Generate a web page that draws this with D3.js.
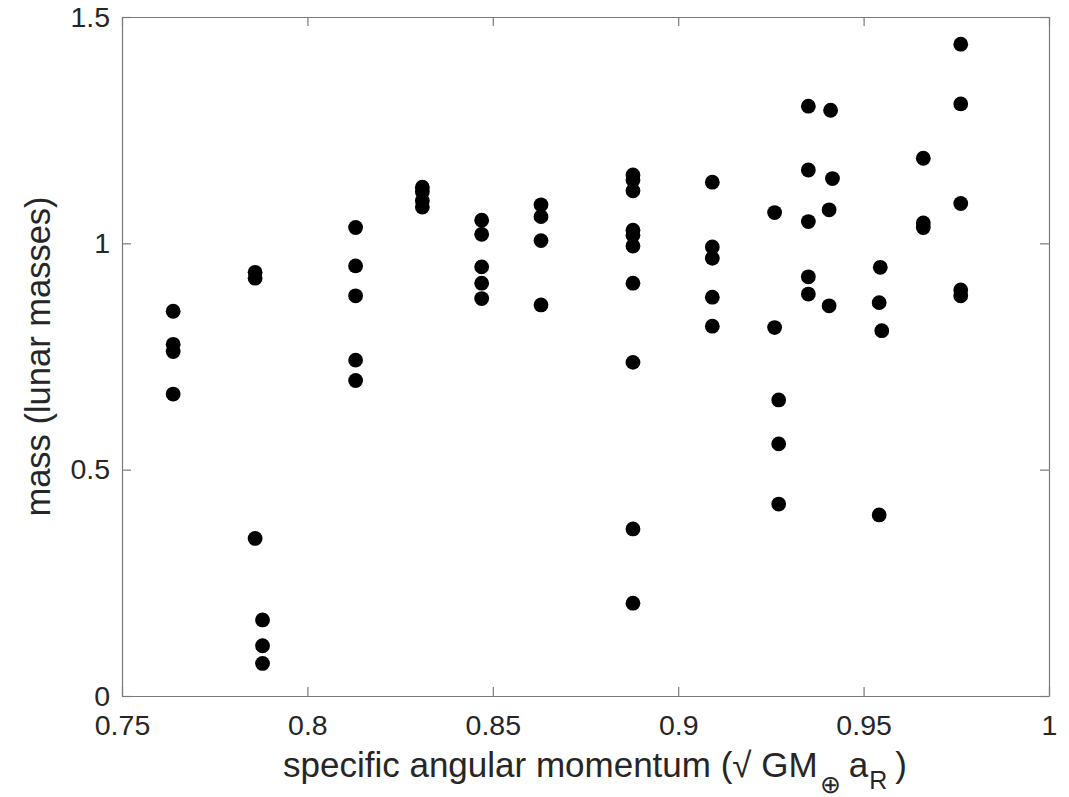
<!DOCTYPE html>
<html>
<head>
<meta charset="utf-8">
<script src="https://cdn.jsdelivr.net/npm/d3@7"></script>
<style>
  body { margin: 0; background: #fff; }
  svg { display: block; font-family: "Liberation Sans", Arial, sans-serif; }
</style>
</head>
<body>
<svg id="chart"></svg>
<script>
const width = 1069;
const height = 797;
const margin = {top: 17, right: 20, bottom: 101, left: 122};

// specific angular momentum of each point
const momentum = [
  0.7638, 0.7638, 0.7638, 0.7638,
  0.7859, 0.7859, 0.7859, 0.7879, 0.7879, 0.7879,
  0.8130, 0.8130, 0.8130, 0.8130, 0.8130,
  0.8310, 0.8310, 0.8310, 0.8310,
  0.8470, 0.8470, 0.8470, 0.8470, 0.8470,
  0.8630, 0.8630, 0.8630, 0.8630,
  0.8878, 0.8878, 0.8878, 0.8878, 0.8878, 0.8878, 0.8878, 0.8878, 0.8878, 0.8878,
  0.9092, 0.9092, 0.9092, 0.9092, 0.9092,
  0.9260, 0.9260, 0.9271, 0.9271, 0.9271,
  0.9351, 0.9351, 0.9351, 0.9351, 0.9351,
  0.9411, 0.9416, 0.9407, 0.9407,
  0.9545, 0.9542, 0.9549, 0.9542,
  0.9661, 0.9661, 0.9661,
  0.9762, 0.9762, 0.9762, 0.9762, 0.9762
];

// mass (lunar masses) of each point
const mass = [
  0.850, 0.777, 0.761, 0.667,
  0.936, 0.923, 0.348, 0.168, 0.111, 0.072,
  1.035, 0.950, 0.884, 0.742, 0.697,
  1.124, 1.114, 1.094, 1.080,
  1.051, 1.020, 0.948, 0.912, 0.878,
  1.085, 1.059, 1.006, 0.864,
  1.151, 1.140, 1.116, 1.029, 1.018, 0.994, 0.912, 0.737, 0.369, 0.205,
  1.135, 0.992, 0.967, 0.881, 0.817,
  1.068, 0.814, 0.654, 0.557, 0.424,
  1.303, 1.162, 1.048, 0.926, 0.888,
  1.294, 1.143, 1.074, 0.862,
  0.947, 0.869, 0.807, 0.400,
  1.188, 1.045, 1.035,
  1.440, 1.308, 1.088, 0.897, 0.884
];

const xTicks = [0.75, 0.8, 0.85, 0.9, 0.95, 1];
const xTickLabels = ["0.75", "0.8", "0.85", "0.9", "0.95", "1"];
const yTicks = [0, 0.5, 1, 1.5];
const yTickLabels = ["0", "0.5", "1", "1.5"];

const w = width - margin.left - margin.right;
const h = height - margin.top - margin.bottom;

const svg = d3.select("#chart")
  .attr("width", width)
  .attr("height", height);

const g = svg.append("g")
  .attr("transform", `translate(${margin.left},${margin.top})`);

const x = d3.scaleLinear().domain([0.75, 1]).range([0, w]);
const y = d3.scaleLinear().domain([0, 1.5]).range([h, 0]);

const axisColor = "#7a7a7a";
const textColor = "#262626";
const tickLen = 9;

// box axes, ticks pointing inward on all four sides
function styleAxis(sel) {
  sel.select(".domain").attr("stroke", axisColor).attr("stroke-width", 1.2);
  sel.selectAll(".tick line").attr("stroke", axisColor).attr("stroke-width", 1.2);
  sel.selectAll(".tick text").attr("fill", textColor).style("font-size", "28.5px");
}

g.append("g")
  .attr("transform", `translate(0,${h})`)
  .call(d3.axisBottom(x).tickValues(xTicks).tickSizeInner(-tickLen).tickSizeOuter(0)
    .tickPadding(19).tickFormat((d, i) => xTickLabels[i]))
  .call(styleAxis);

g.append("g")
  .call(d3.axisTop(x).tickValues(xTicks).tickSizeInner(-tickLen).tickSizeOuter(0)
    .tickFormat(""))
  .call(styleAxis);

g.append("g")
  .call(d3.axisLeft(y).tickValues(yTicks).tickSizeInner(-tickLen).tickSizeOuter(0)
    .tickPadding(12).tickFormat((d, i) => yTickLabels[i]))
  .call(styleAxis);

g.append("g")
  .attr("transform", `translate(${w},0)`)
  .call(d3.axisRight(y).tickValues(yTicks).tickSizeInner(-tickLen).tickSizeOuter(0)
    .tickFormat(""))
  .call(styleAxis);

// points
g.append("g")
  .selectAll("circle")
  .data(momentum.map((m, i) => ({m, mass: mass[i]})))
  .join("circle")
  .attr("cx", d => x(d.m))
  .attr("cy", d => y(d.mass))
  .attr("r", 7.4)
  .attr("fill", "#000");

// axis labels
const xLabel = svg.append("text")
  .attr("x", 283)
  .attr("y", 777)
  .attr("text-anchor", "start")
  .attr("fill", textColor)
  .style("font-size", "35px");
xLabel.append("tspan").text("specific angular momentum (\u221A GM");
xLabel.append("tspan").attr("dy", 16).attr("dx", 2).style("font-size", "25px").text("\u2295");
xLabel.append("tspan").attr("dy", -16).attr("dx", 8).text("a");
xLabel.append("tspan").attr("dy", 12).attr("dx", 1).style("font-size", "25px").text("R");
xLabel.append("tspan").attr("dy", -12).attr("dx", 8).text(")");

svg.append("text")
  .attr("transform", `translate(50,${margin.top + h / 2}) rotate(-90)`)
  .attr("text-anchor", "middle")
  .attr("fill", textColor)
  .style("font-size", "34.5px")
  .text("mass (lunar masses)");
</script>
</body>
</html>
